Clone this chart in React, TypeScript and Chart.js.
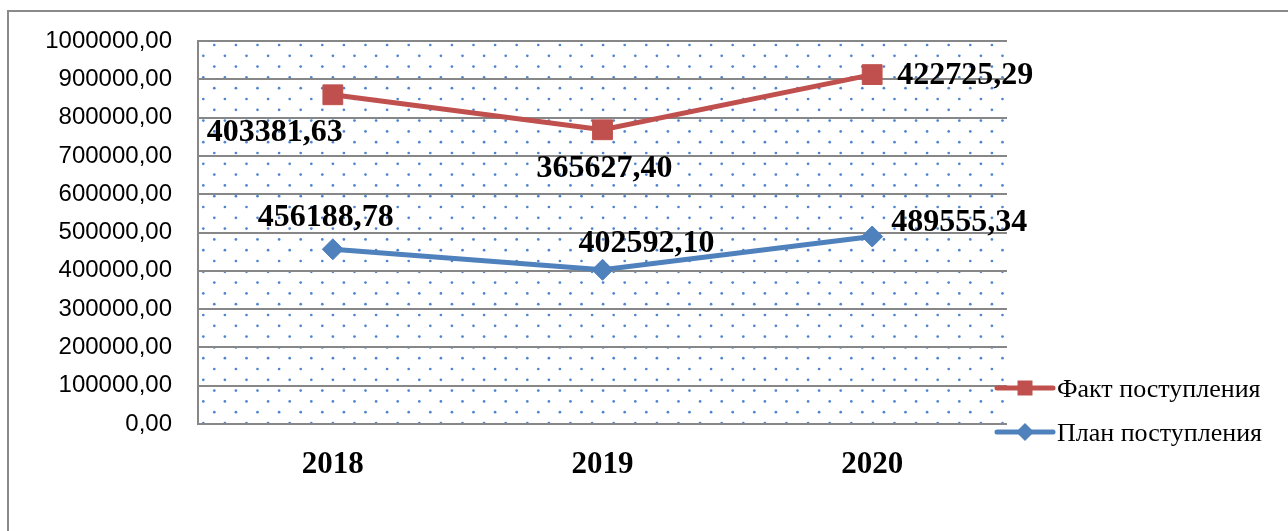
import React, { useEffect, useRef } from "react";
import { Chart, registerables } from "chart.js";

Chart.register(...registerables);

// ---- data ----
const years = ["2018", "2019", "2020"];
const planValues = [456188.78, 402592.1, 489555.34];
const factValues = [403381.63, 365627.4, 422725.29];
const planLabel = "План поступления";
const factLabel = "Факт поступления";
const yMin = 0;
const yMax = 1000000;
const yStep = 100000;

// ---- styles ----
const RED = "#C0504D";
const BLUE = "#4F81BD";
const GRID = "#878787";
const SERIF = "'Liberation Serif', 'Times New Roman', serif";
const SANS = "'Liberation Sans', Arial, sans-serif";

// label offsets (px) relative to each point, per dataset (plan, fact)
const labelOffsets = [
  [[-7, -32], [44, -26], [87, -14]],
  [[-58, 38], [2, 39], [93, 1]],
];

function fmt(v: number): string {
  return Number(v).toFixed(2).replace(".", ",");
}

const bgPlugin = {
  id: "bgDots",
  beforeDraw(chart: any) {
    const { ctx, chartArea: a } = chart;
    ctx.save();
    ctx.fillStyle = "#ffffff";
    ctx.fillRect(0, 0, chart.width, chart.height);
    ctx.strokeStyle = "#8a8a8a";
    ctx.lineWidth = 2;
    ctx.strokeRect(8, 11, chart.width + 50, chart.height + 50);
    ctx.fillStyle = "#4f85d0";
    const sx = 21.6;
    const sy = 10.8;
    let row = 0;
    for (let y = a.top + 4; y < a.bottom + 1; y += sy, row++) {
      const x0 = a.left + (row % 2 === 0 ? 16.3 : 5.3);
      for (let x = x0; x < a.right; x += sx) {
        ctx.beginPath();
        ctx.arc(x, y, 1.35, 0, Math.PI * 2);
        ctx.fill();
      }
    }
    ctx.restore();
  },
};

const labelPlugin = {
  id: "valueLabels",
  afterDatasetsDraw(chart: any) {
    const ctx = chart.ctx;
    ctx.save();
    ctx.font = `bold 32px ${SERIF}`;
    ctx.fillStyle = "#000";
    ctx.textAlign = "center";
    ctx.textBaseline = "middle";
    chart.data.datasets.forEach((ds: any, i: number) => {
      const meta = chart.getDatasetMeta(i);
      const offs = labelOffsets[i];
      meta.data.forEach((pt: any, j: number) => {
        ctx.fillText(fmt(ds.data[j]), pt.x + offs[j][0], pt.y + offs[j][1]);
      });
    });
    ctx.restore();
  },
};

const legendPlugin = {
  id: "customLegend",
  afterDraw(chart: any) {
    const { ctx, chartArea: a } = chart;
    const items = [
      { text: factLabel, color: RED, style: "rect" },
      { text: planLabel, color: BLUE, style: "diamond" },
    ];
    const x0 = a.right - 10;
    const x1 = x0 + 56;
    const yStart = 388;
    const gap = 44;
    ctx.save();
    items.forEach((it, k) => {
      const y = yStart + k * gap;
      ctx.strokeStyle = it.color;
      ctx.lineWidth = 5;
      ctx.lineCap = "round";
      ctx.beginPath();
      ctx.moveTo(x0, y);
      ctx.lineTo(x1, y);
      ctx.stroke();
      const cx = (x0 + x1) / 2;
      ctx.fillStyle = it.color;
      if (it.style === "rect") {
        ctx.fillRect(cx - 7.5, y - 7.5, 15, 15);
      } else {
        ctx.beginPath();
        ctx.moveTo(cx, y - 9);
        ctx.lineTo(cx + 9, y);
        ctx.lineTo(cx, y + 9);
        ctx.lineTo(cx - 9, y);
        ctx.closePath();
        ctx.fill();
      }
      ctx.fillStyle = "#000";
      ctx.font = `26px ${SERIF}`;
      ctx.textAlign = "left";
      ctx.textBaseline = "middle";
      ctx.fillText(it.text, x1 + 4, y + 2);
    });
    ctx.restore();
  },
};

export default function App() {
  const ref = useRef<HTMLCanvasElement | null>(null);

  useEffect(() => {
    if (!ref.current) return;
    const chart = new Chart(ref.current, {
      type: "line",
      data: {
        labels: years,
        datasets: [
          {
            label: planLabel,
            data: planValues,
            borderColor: BLUE,
            backgroundColor: BLUE,
            borderWidth: 5,
            pointStyle: "rectRot",
            pointRadius: 10.5,
            pointBackgroundColor: BLUE,
            pointBorderColor: BLUE,
            pointBorderWidth: 1,
            fill: false,
            tension: 0,
          },
          {
            label: factLabel,
            data: factValues,
            borderColor: RED,
            backgroundColor: RED,
            borderWidth: 5,
            pointStyle: "rect",
            pointRadius: 14,
            pointBackgroundColor: RED,
            pointBorderColor: RED,
            pointBorderWidth: 1,
            fill: false,
            tension: 0,
          },
        ],
      },
      options: {
        responsive: false,
        animation: false,
        layout: { padding: { left: 0, top: 41, right: 281, bottom: 0 } },
        plugins: {
          legend: { display: false },
          tooltip: { enabled: false },
        },
        scales: {
          x: {
            offset: true,
            grid: { display: false },
            border: { display: false },
            ticks: {
              color: "#000",
              font: { family: SERIF, size: 31, weight: "bold" },
              padding: 14,
            },
            afterFit(s: any) {
              s.height = 107;
            },
          },
          y: {
            stacked: true,
            min: yMin,
            max: yMax,
            ticks: {
              stepSize: yStep,
              color: "#000",
              font: { family: SANS, size: 24 },
              padding: 26,
              callback: (v: any) => fmt(v),
            },
            grid: { color: GRID, lineWidth: 2, drawTicks: false },
            border: { display: true, color: GRID, width: 2 },
            afterFit(s: any) {
              s.width = 198;
            },
          },
        },
      } as any,
      plugins: [bgPlugin, labelPlugin, legendPlugin],
    });
    return () => chart.destroy();
  }, []);

  return (
    <div style={{ position: "absolute", left: 0, top: 0, width: 1288, height: 531 }}>
      <canvas ref={ref} width={1288} height={531} />
    </div>
  );
}
